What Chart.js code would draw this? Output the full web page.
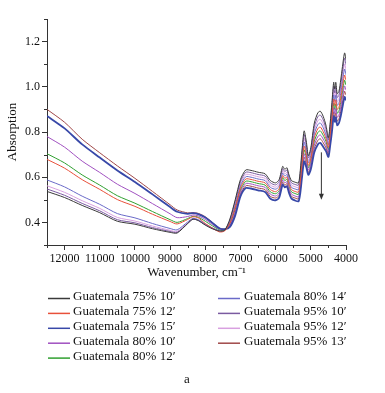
<!DOCTYPE html>
<html><head><meta charset="utf-8">
<script src="https://cdn.jsdelivr.net/npm/chart.js@4.4.1/dist/chart.umd.min.js"></script>
<style>html,body{margin:0;padding:0;background:#fff}#wrap{width:385px;height:393px;position:relative}</style>
</head><body><div id="wrap"><canvas id="c" width="385" height="393"></canvas></div>
<script>
// Wavenumbers (cm-1), left part then right part
const wavenumbers = [12500,12000,11500,11000,10500,10000,9500,9000,8800,8500,8350,8200,8000,7800,7600,7450,
  7300,7150,7000,6850,6700,6500,6300,6150,6000,5900,5800,5740,5680,5620,5550,5450,5350,5300,5250,5190,5130,5070,5000,4900,4800,4730,4650,4570,4500,4450,4400,4350,4320,4290,4250,4200,4150,4100,4040,4000];

const seriesNames = ["Guatemala 75% 10\u2032","Guatemala 75% 12\u2032","Guatemala 75% 15\u2032","Guatemala 80% 10\u2032","Guatemala 80% 12\u2032","Guatemala 80% 14\u2032","Guatemala 95% 10\u2032","Guatemala 95% 12\u2032","Guatemala 95% 13\u2032"];
const seriesColors = ["#3a3a3a","#e8503a","#3848a8","#a050c0","#30a030","#6a6ac8","#7a5aa0","#d8a0e0","#a04848"];

const g75_10 = [.537,.510,.475,.443,.405,.392,.372,.356,.353,.395,.414,.408,.388,.372,.362,.365,
  .415,.500,.590,.632,.630,.622,.615,.585,.575,.590,.648,.635,.642,.610,.585,.578,.575,.630,.720,.805,.760,.695,.730,.840,.885,.892,.870,.830,.775,.840,.930,1.020,.990,1.020,.970,.980,1.030,1.090,1.150,1.120];
const g75_12 = [.679,.640,.589,.546,.501,.471,.436,.404,.393,.413,.425,.420,.395,.375,.358,.362,
  .397,.465,.552,.592,.590,.582,.575,.545,.536,.550,.607,.595,.601,.570,.545,.537,.534,.580,.660,.737,.702,.652,.682,.775,.815,.822,.802,.772,.732,.790,.865,.945,.917,.942,.900,.910,.950,1.000,1.052,1.030];
const g75_15 = [.871,.816,.745,.687,.630,.579,.524,.468,.447,.438,.441,.437,.422,.398,.374,.370,
  .380,.430,.515,.552,.550,.542,.535,.505,.498,.510,.567,.555,.560,.530,.505,.497,.493,.530,.600,.670,.645,.610,.635,.710,.745,.752,.735,.715,.690,.740,.800,.870,.845,.865,.830,.840,.870,.910,.955,.940];
const g80_10 = [.780,.733,.671,.621,.569,.528,.483,.438,.421,.426,.433,.429,.413,.391,.371,.368,
  .389,.447,.534,.572,.570,.562,.555,.525,.517,.530,.587,.575,.580,.550,.525,.517,.513,.555,.630,.704,.674,.631,.659,.742,.780,.787,.769,.744,.711,.765,.832,.907,.881,.904,.865,.875,.910,.955,1.004,.985];
const g80_12 = [.704,.663,.610,.565,.518,.485,.448,.412,.400,.417,.427,.423,.405,.385,.368,.367,
  .393,.457,.543,.582,.580,.572,.565,.535,.527,.540,.598,.585,.591,.560,.535,.528,.524,.568,.646,.721,.689,.642,.671,.759,.798,.805,.786,.759,.722,.778,.849,.927,.900,.924,.883,.893,.931,.978,1.029,1.008];
const g80_14 = [.588,.557,.516,.480,.439,.420,.395,.373,.367,.402,.418,.412,.393,.376,.364,.366,
  .402,.474,.562,.602,.600,.592,.585,.555,.547,.560,.618,.605,.612,.580,.555,.548,.545,.593,.676,.755,.717,.664,.695,.792,.833,.840,.820,.787,.744,.803,.882,.964,.936,.963,.918,.928,.971,1.023,1.078,1.053];
const g95_10 = [.548,.520,.484,.451,.412,.398,.377,.360,.356,.396,.415,.409,.389,.373,.362,.365,
  .411,.492,.581,.622,.620,.612,.605,.575,.566,.580,.638,.625,.632,.600,.575,.568,.565,.618,.706,.789,.746,.685,.719,.824,.868,.875,.854,.816,.765,.828,.914,1.002,.973,1.001,.953,.963,1.011,1.068,1.127,1.098];
const g95_12 = [.562,.533,.496,.462,.422,.406,.384,.365,.360,.398,.416,.410,.391,.374,.363,.365,
  .406,.482,.571,.612,.610,.602,.595,.565,.556,.570,.628,.615,.621,.590,.565,.558,.554,.605,.690,.771,.731,.674,.706,.807,.850,.857,.836,.801,.754,.815,.897,.982,.954,.981,.935,.945,.990,1.045,1.101,1.075];
const g95_13 = [.900,.843,.768,.708,.650,.595,.537,.478,.455,.442,.443,.440,.425,.400,.375,.370,
  .385,.439,.525,.562,.560,.552,.545,.515,.508,.520,.578,.565,.571,.540,.515,.508,.504,.543,.616,.688,.660,.621,.647,.727,.763,.770,.753,.730,.701,.753,.817,.889,.864,.885,.848,.858,.891,.933,.980,.963];

const seriesValues = [g75_10,g75_12,g75_15,g80_10,g80_12,g80_14,g95_10,g95_12,g95_13];
const seriesWidths = [1,1,1.8,1,1,1,1,1,1];

const xMajorTicks = [4000,5000,6000,7000,8000,9000,10000,11000,12000];
const yMajorTicks = [0.4,0.6,0.8,1.0,1.2];
const arrowAt = {x:4700, from:0.71, to:0.50};
const panelLabel = "a";

const FONT = "'Liberation Serif','Times New Roman',serif";
Chart.defaults.font.family = FONT;
Chart.defaults.color = '#111';

const datasets = seriesValues.map((vals,i)=>({
  label: seriesNames[i],
  data: vals.map((v,j)=>({x:wavenumbers[j], y:v})),
  borderColor: seriesColors[i],
  borderWidth: seriesWidths[i],
  pointRadius: 0,
  tension: 0.25,
  fill: false
}));

const extras = {
  id:'extras',
  afterDraw(chart){
    const ctx = chart.ctx, xs = chart.scales.x, ys = chart.scales.y, ca = chart.chartArea;
    ctx.save();
    // minor ticks
    ctx.strokeStyle = '#333'; ctx.lineWidth = 1;
    for (let v = 4500; v <= 12500; v += 1000) {
      const px = Math.round(xs.getPixelForValue(v)) + 0.5;
      ctx.beginPath(); ctx.moveTo(px, ca.bottom); ctx.lineTo(px, ca.bottom + 3); ctx.stroke();
    }
    for (let k = 3; k <= 13; k += 2) {
      const py = Math.round(ys.getPixelForValue(k/10)) + 0.5;
      ctx.beginPath(); ctx.moveTo(ca.left - 3, py); ctx.lineTo(ca.left, py); ctx.stroke();
    }
    // arrow
    const ax = xs.getPixelForValue(arrowAt.x), ay1 = ys.getPixelForValue(arrowAt.from), ay2 = ys.getPixelForValue(arrowAt.to);
    ctx.strokeStyle = '#333'; ctx.fillStyle = '#333'; ctx.lineWidth = 1;
    ctx.beginPath(); ctx.moveTo(ax, ay1); ctx.lineTo(ax, ay2 - 5); ctx.stroke();
    ctx.beginPath(); ctx.moveTo(ax - 2.5, ay2 - 6); ctx.lineTo(ax + 2.5, ay2 - 6); ctx.lineTo(ax, ay2); ctx.closePath(); ctx.fill();
    // legend
    ctx.font = '13px ' + FONT; ctx.textBaseline = 'middle'; ctx.textAlign = 'left';
    const cols = [{lx:48, tx:73},{lx:218, tx:244}];
    chart.data.datasets.forEach((ds,i)=>{
      const c = i < 5 ? 0 : 1, r = i < 5 ? i : i - 5;
      const y = 297 + r*14.9;
      ctx.strokeStyle = ds.borderColor; ctx.lineWidth = 1.5;
      ctx.beginPath(); ctx.moveTo(cols[c].lx, y + 1.5); ctx.lineTo(cols[c].lx + 22, y + 1.5); ctx.stroke();
      ctx.fillStyle = '#111';
      ctx.fillText(ds.label, cols[c].tx, y);
    });
    ctx.textAlign = 'center';
    ctx.fillText(panelLabel, 187, 380);
    ctx.restore();
  }
};

new Chart(document.getElementById('c'), {
  type: 'line',
  data: { datasets },
  options: {
    responsive: false,
    devicePixelRatio: 1,
    animation: false,
    layout: { padding: { top: 19, right: 39, bottom: 113, left: 0 } },
    plugins: { legend: { display: false }, tooltip: { enabled: false } },
    scales: {
      x: {
        type: 'linear', reverse: true, min: 4000, max: 12500,
        border: { display: true, color: '#333', width: 1 },
        grid: { display: true, drawOnChartArea: false, tickLength: 5,
          tickColor: c => (c.tick && xMajorTicks.includes(c.tick.value)) ? '#333' : 'rgba(0,0,0,0)' },
        ticks: { stepSize: 500, autoSkip: false, maxRotation: 0, padding: 2, color: '#111', font: { size: 12 },
          callback: v => xMajorTicks.includes(v) ? String(v) : '' },
        title: { display: true, text: 'Wavenumber, cm\u207B\u00B9', font: { size: 13 }, color: '#111', padding: { top: 0, bottom: 0 } },
        afterFit: s => { s.height = 35; }
      },
      y: {
        min: 0.3, max: 1.3,
        border: { display: true, color: '#333', width: 1 },
        grid: { display: true, drawOnChartArea: false, tickLength: 5,
          tickColor: c => (c.tick && Math.round(c.tick.value*10) % 2 === 0) ? '#333' : 'rgba(0,0,0,0)' },
        ticks: { stepSize: 0.1, autoSkip: false, padding: 2, color: '#111', font: { size: 12 },
          callback: v => { const k = Math.round(v*10); return yMajorTicks.some(t => Math.round(t*10) === k) ? (k/10).toFixed(1) : ''; } },
        title: { display: true, text: 'Absorption', font: { size: 13 }, color: '#111', padding: { top: 5, bottom: 0 } },
        afterFit: s => { s.width = 47; }
      }
    }
  },
  plugins: [extras]
});
</script></body></html>
